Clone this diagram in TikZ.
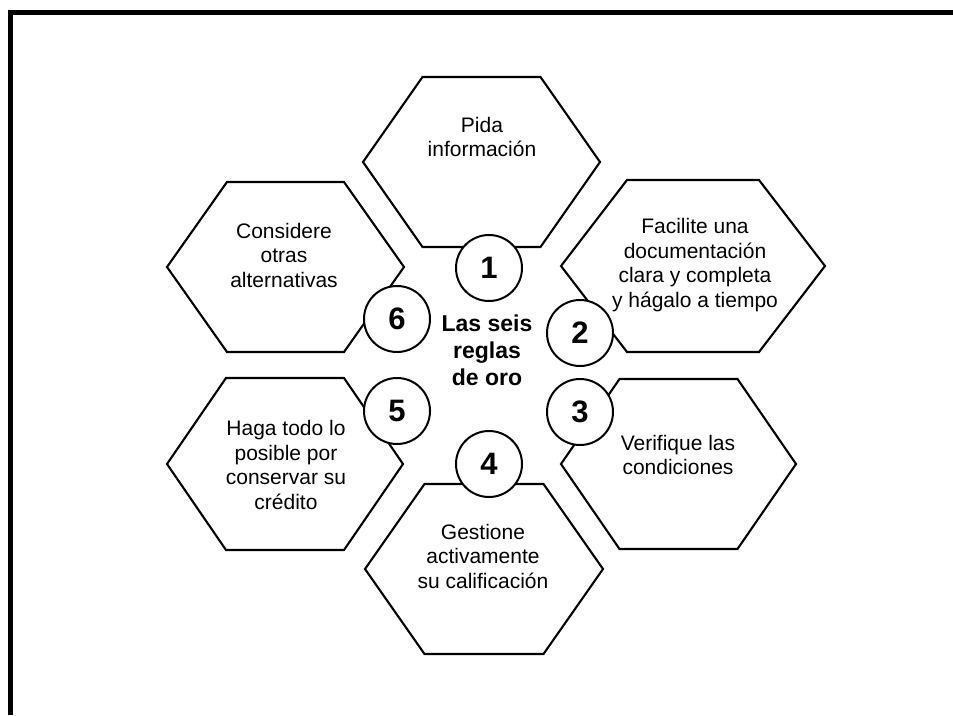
\documentclass[tikz,border=0pt]{standalone}
\usepackage{fontspec}
\setmainfont{Liberation Sans}
\newcommand\hexat[4]{\draw[hexline,shift={(#1)}] (-#2,0) -- (-#4,-#3) -- (#4,-#3) -- (#2,0) -- (#4,#3) -- (-#4,#3) -- cycle;}
\begin{document}
\begin{tikzpicture}[x=1pt,y=-1pt,
  hexline/.style={draw=black,line width=2.1pt,line join=miter},
  hextext/.style={align=center,font=\fontsize{21}{24.5}\selectfont,inner sep=0pt},
  num/.style={circle,draw=black,fill=white,line width=2pt,minimum size=66pt,inner sep=0pt,font=\bfseries\fontsize{31}{31}\selectfont},
  frameline/.style={line width=5.5pt,line join=miter}]
\useasboundingbox (0,0) rectangle (953,715);
\coordinate (fa) at (10.5,715);
\coordinate (fb) at (10.5,12.5);
\coordinate (fc) at (953,12.5);
\draw[frameline] (fa) -- (fb) -- (fc);
% hexagon centres
\coordinate (h1) at (481.5,162);
\coordinate (h2) at (693,266);
\coordinate (h3) at (678.5,464);
\coordinate (h4) at (484,569);
\coordinate (h5) at (285,464);
\coordinate (h6) at (285.5,267);
\hexat{h1}{118.5}{85}{59}
\hexat{h2}{132}{86}{66}
\hexat{h3}{117.5}{85}{59}
\hexat{h4}{119}{85}{59.5}
\hexat{h5}{118}{86}{59}
\hexat{h6}{118.5}{85}{58.5}
% texts
\node[hextext] (t1) at (482,137) {Pida\\información};
\node[hextext] (t2) at (695,265) {Facilite una\\documentación\\clara y completa\\y hágalo a tiempo};
\node[hextext] (t3) at (678,455) {Verifique las\\condiciones};
\node[hextext] (t4) at (483,556) {Gestione\\activamente\\su calificación};
\node[hextext] (t5) at (286,465) {Haga todo lo\\posible por\\conservar su\\crédito};
\node[hextext] (t6) at (284,255) {Considere\\otras\\alternativas};
\node[align=center,inner sep=0pt,font=\bfseries\fontsize{23}{27}\selectfont] (c) at (487,350) {Las seis\\reglas\\de oro};
% numbered circles
\node[num] (n1) at (489,268) {1};
\node[num] (n2) at (580,333) {2};
\node[num] (n3) at (580,412) {3};
\node[num] (n4) at (489,464) {4};
\node[num] (n5) at (397,411) {5};
\node[num] (n6) at (397,319) {6};
\end{tikzpicture}
\end{document}
